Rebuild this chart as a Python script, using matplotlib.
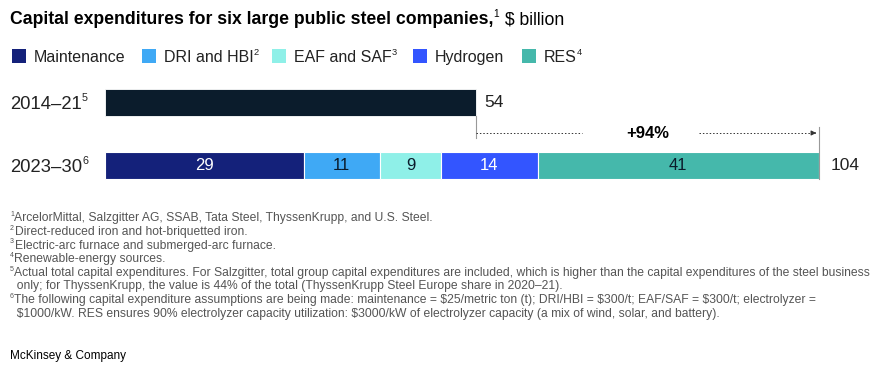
"""Stacked capex bar chart for six large public steel companies."""

import matplotlib

matplotlib.use("Agg")

import matplotlib.pyplot as plt
from matplotlib.patches import Rectangle

plt.rcParams["font.family"] = ["Liberation Sans", "DejaVu Sans"]

W, H = 880, 366

# data
periods = ["2014–21", "2023–30"]
period_notes = ["5", "6"]
historic_total = 54
categories = ["Maintenance", "DRI and HBI", "EAF and SAF", "Hydrogen", "RES"]
category_notes = ["", "2", "3", "", "4"]
future_values = [29, 11, 9, 14, 41]
change_label = "+94%"

colors = ["#14217a", "#3fa9f5", "#8ff0e8", "#3355ff", "#45b8ab"]
value_text_colors = ["white", "#0b1c2c", "#0b1c2c", "white", "#0b1c2c"]
historic_color = "#0b1c2c"

footnote_marks = ["1", "2", "3", "4", "5", "", "6", ""]
footnotes = [
    "ArcelorMittal, Salzgitter AG, SSAB, Tata Steel, ThyssenKrupp, and U.S. Steel.",
    "Direct-reduced iron and hot-briquetted iron.",
    "Electric-arc furnace and submerged-arc furnace.",
    "Renewable-energy sources.",
    "Actual total capital expenditures. For Salzgitter, total group capital expenditures are included, "
    "which is higher than the capital expenditures of the steel business",
    "  only; for ThyssenKrupp, the value is 44% of the total (ThyssenKrupp Steel Europe share in 2020–21).",
    "The following capital expenditure assumptions are being made: maintenance = $25/metric ton (t); "
    "DRI/HBI = $300/t; EAF/SAF = $300/t; electrolyzer =",
    "  $1000/kW. RES ensures 90% electrolyzer capacity utilization: $3000/kW of electrolyzer capacity "
    "(a mix of wind, solar, and battery).",
]

fig = plt.figure(figsize=(W / 100, H / 100), dpi=100)
renderer = fig.canvas.get_renderer()


def rich_text(x, y, parts, fontsize, color="#222222"):
    """Draw (text, weight, is_sup) parts left to right; x, y are pixel coords of the text centre line."""
    base = y + 0.5 * fontsize
    for s, weight, sup in parts:
        if not s:
            continue
        size = fontsize * 0.58 if sup else fontsize
        yy = base - (0.42 * fontsize * 1.389 if sup else 0)
        t = fig.text(x / W, 1 - yy / H, s, fontsize=size, fontweight=weight, color=color,
                     va="baseline", parse_math=False)
        x = t.get_window_extent(renderer).x1 + (0.5 if sup else 0)
    return x


# title
rich_text(10, 18, [("Capital expenditures for six large public steel companies,", "bold", False),
                   ("1", "normal", True), (" $ billion", "normal", False)], 12.7, color="#000000")

# legend
legend_x = [12, 142, 272, 413, 522]
for x, label, note, c in zip(legend_x, categories, category_notes, colors):
    fig.add_artist(Rectangle((x / W, 1 - 63 / H), 14 / W, 14 / H, transform=fig.transFigure,
                             facecolor=c, edgecolor="none"))
    rich_text(x + 22, 56, [(label, "normal", False), (note, "normal", True)], 11.5)

# bars
ax = fig.add_axes([105 / W, (H - 190) / H, 714 / W, 110 / H])
ax.set_xlim(0, 104)
ax.set_ylim(190, 80)
ax.axis("off")

y_hist, y_future, bar_h = 102.5, 165, 27
ax.barh(y_hist, historic_total, height=bar_h, color=historic_color, edgecolor="white", linewidth=0.6)

left = 0
for v, c, tc in zip(future_values, colors, value_text_colors):
    ax.barh(y_future, v, left=left, height=bar_h, color=c, edgecolor="white", linewidth=0.8)
    ax.text(left + v / 2, y_future, str(v), ha="center", va="center", fontsize=12, color=tc)
    left += v
future_total = left

ax.text(historic_total + 1.2, y_hist, str(historic_total), va="center", fontsize=12.5, color="#222222")
ax.text(future_total + 1.7, y_future, str(future_total), va="center", fontsize=12.5, color="#222222")

# growth connector
ax.plot([historic_total, historic_total], [y_hist + bar_h / 2, 138], color="#999999", lw=0.8,
        clip_on=False)
ax.plot([future_total, future_total], [127, y_future + bar_h / 2], color="#999999", lw=0.8,
        clip_on=False)
mid = (historic_total + future_total) / 2
y_arrow = 133
ax.plot([historic_total, mid - 9.5], [y_arrow, y_arrow], color="#333333", lw=0.7,
        ls=(0, (1.5, 2)))
ax.plot([mid + 7.5, future_total - 0.6], [y_arrow, y_arrow], color="#333333", lw=0.7,
        ls=(0, (1.5, 2)))
ax.annotate("", xy=(future_total, y_arrow), xytext=(future_total - 1, y_arrow),
            arrowprops=dict(arrowstyle="-|>", color="#333333", lw=0.8, mutation_scale=7),
            annotation_clip=False)
ax.text(mid, y_arrow, change_label, ha="center", va="center", fontsize=12, fontweight="bold",
        color="#000000")

# period labels
for label, note, y in zip(periods, period_notes, [y_hist, y_future]):
    rich_text(10, y, [(label, "normal", False), (note, "normal", True)], 13.3)

# footnotes
for i, (mark, line) in enumerate(zip(footnote_marks, footnotes)):
    rich_text(10, 217 + i * 13.6, [(mark, "normal", True), (line, "normal", False)], 8.7,
              color="#555555")

fig.text(10 / W, 1 - 356 / H, "McKinsey & Company", fontsize=8.5, color="#000000", va="center")

fig.savefig("out.png", dpi=100)
